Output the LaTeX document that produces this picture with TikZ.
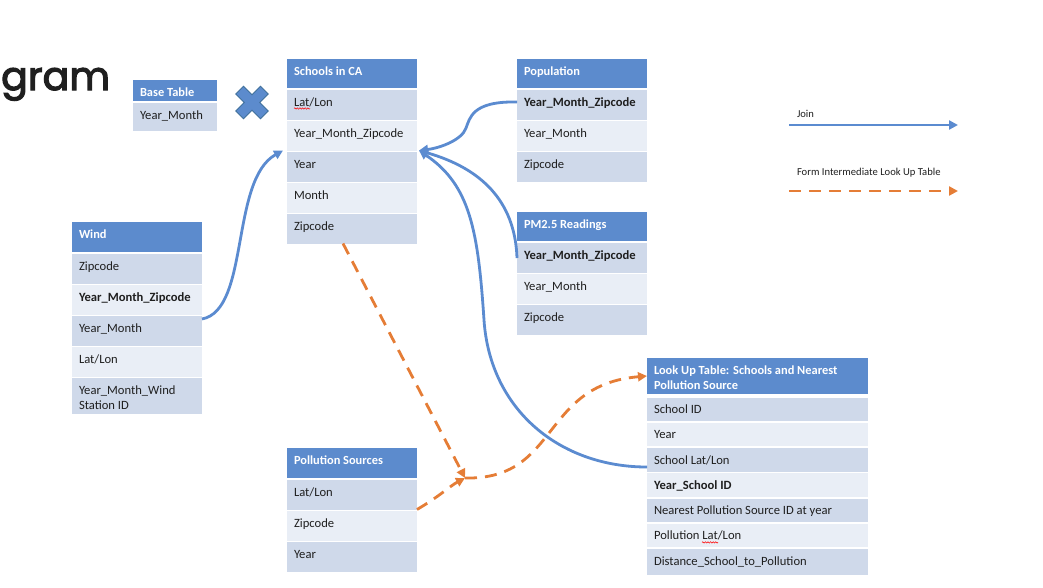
\documentclass[tikz,border=0pt]{standalone}
\usepackage{fontspec}
\setmainfont{Carlito}
\newfontfamily\titlefont{Poppins}[FakeBold=3]
\usetikzlibrary{arrows.meta,decorations.pathmorphing}

\definecolor{hdrblue}{HTML}{5C8BCD}
\definecolor{rowdark}{HTML}{CFD9EA}
\definecolor{rowlight}{HTML}{E9EEF6}
\definecolor{inkgray}{HTML}{1F1F1F}
\definecolor{joinblue}{HTML}{5B8BD0}
\definecolor{lookorange}{HTML}{E57D36}
\definecolor{xborder}{HTML}{41719C}

\tikzset{
  rowbox/.style={rectangle, draw=none, inner sep=0pt, outer sep=0pt, anchor=north west},
  rowtext/.style={inner sep=0pt, outer sep=0pt, anchor=base west, text=inkgray,
                  font=\fontsize{12.6}{15}\selectfont},
  hdrtext/.style={rowtext, text=white, font=\bfseries\fontsize{12.4}{15}\selectfont},
  keytext/.style={rowtext, font=\fontsize{10.6}{13}\selectfont},
  joinline/.style={draw=joinblue, line width=2.8pt, -{Triangle[length=9pt,width=9pt]}},
  lookline/.style={draw=lookorange, line width=2.8pt, dash pattern=on 12pt off 8pt,
                   -{Triangle[length=9pt,width=9pt]}},
  spellmark/.style={draw=red, line width=0.5pt,
                    decorate, decoration={snake, amplitude=0.7pt, segment length=2.6pt}}
}

% \tabrow{name}{x}{top}{width}{height}{fill}{text}
\newcommand\tabrow[7]{%
  \node[rowbox, fill=#6, minimum width=#4pt, minimum height=#5pt] (#1) at (#2,#3) {};
  \node[rowtext] (#1-t) at ([xshift=7pt,yshift=-16pt]#1.north west) {#7};}
% \tabhead{name}{x}{top}{width}{height}{text}
\newcommand\tabhead[6]{%
  \node[rowbox, fill=hdrblue, minimum width=#4pt, minimum height=#5pt] (#1) at (#2,#3) {};
  \node[hdrtext] (#1-t) at ([xshift=7pt,yshift=-16pt]#1.north west) {#6};}

\begin{document}
\begin{tikzpicture}[x=1pt,y=-1pt]
\useasboundingbox (0,0) rectangle (1043,587);

% slide title (partly cut)
\node[anchor=base west, inner sep=0pt, text=inkgray,
      font=\titlefont\fontsize{39.5}{40}\selectfont] (title) at (1,90) {gram};

% Base Table
\tabhead{bt}{133}{80}{84}{21}{Base Table}
\node[rowbox, fill=rowdark, minimum width=84pt, minimum height=28pt] (bt1) at (133,103) {};
\node[rowtext] (bt1-t) at ([xshift=7pt,yshift=-16pt]bt1.north west) {Year\_Month};

% cross product sign
\begin{scope}[shift={(252,102.5)}, rotate=45]
  \filldraw[fill=hdrblue, draw=xborder, line width=0.8pt]
    (-5.5,-17.5) -- (5.5,-17.5) -- (5.5,-5.5) -- (17.5,-5.5) -- (17.5,5.5) -- (5.5,5.5)
    -- (5.5,17.5) -- (-5.5,17.5) -- (-5.5,5.5) -- (-17.5,5.5) -- (-17.5,-5.5) -- (-5.5,-5.5) -- cycle;
\end{scope}

% Schools in CA
\tabhead{sh}{287}{59}{130}{29}{Schools in CA}
\tabrow{s1}{287}{90}{130}{29.5}{rowdark}{Lat/Lon}
\tabrow{s2}{287}{121}{130}{29.5}{rowlight}{Year\_Month\_Zipcode}
\tabrow{s3}{287}{152}{130}{29.5}{rowdark}{Year}
\tabrow{s4}{287}{183}{130}{29.5}{rowlight}{Month}
\tabrow{s5}{287}{214}{130}{29.5}{rowdark}{Zipcode}
\draw[spellmark] ([yshift=-2.5pt]s1-t.base west) -- ++(16,0);

% Population
\tabhead{ph}{517}{59}{130}{28.5}{Population}
\tabrow{p1}{517}{90}{130}{29.5}{rowdark}{\textbf{Year\_Month\_Zipcode}}
\tabrow{p2}{517}{121}{130}{29.5}{rowlight}{Year\_Month}
\tabrow{p3}{517}{152}{130}{29.5}{rowdark}{Zipcode}

% PM2.5 Readings
\tabhead{mh}{517}{212}{130}{29}{PM2.5 Readings}
\tabrow{m1}{517}{243}{130}{29.5}{rowdark}{\textbf{Year\_Month\_Zipcode}}
\tabrow{m2}{517}{274}{130}{29.5}{rowlight}{Year\_Month}
\tabrow{m3}{517}{305}{130}{29.5}{rowdark}{Zipcode}

% Wind
\tabhead{wh}{72}{222}{130}{30}{Wind}
\tabrow{w1}{72}{254}{130}{29.5}{rowdark}{Zipcode}
\tabrow{w2}{72}{285}{130}{29.5}{rowlight}{\textbf{Year\_Month\_Zipcode}}
\tabrow{w3}{72}{316}{130}{29.5}{rowdark}{Year\_Month}
\tabrow{w4}{72}{347}{130}{29.5}{rowlight}{Lat/Lon}
\tabrow{w5}{72}{378}{130}{36}{rowdark}{Year\_Month\_Wind}
\node[rowtext] (w5-t2) at ([yshift=-15pt]w5-t.base west) {Station ID};

% Pollution Sources
\tabhead{qh}{287}{448}{130}{29.5}{Pollution Sources}
\tabrow{q1}{287}{480}{130}{29.5}{rowdark}{Lat/Lon}
\tabrow{q2}{287}{511}{130}{29.5}{rowlight}{Zipcode}
\tabrow{q3}{287}{542}{130}{29.5}{rowdark}{Year}

% Look Up Table
\tabhead{lh}{647}{358}{221}{36}{Look Up Table: Schools and Nearest}
\node[hdrtext] (lh-t2) at ([yshift=-15pt]lh-t.base west) {Pollution Source};
\tabrow{l1}{647}{397.5}{221}{23.5}{rowdark}{School ID}
\tabrow{l2}{647}{422.8}{221}{23.5}{rowlight}{Year}
\tabrow{l3}{647}{448}{221}{23.5}{rowdark}{School Lat/Lon}
\tabrow{l4}{647}{473.3}{221}{23.5}{rowlight}{\textbf{Year\_School ID}}
\tabrow{l5}{647}{498.6}{221}{23.5}{rowdark}{Nearest Pollution Source ID at year}
\tabrow{l6}{647}{523.9}{221}{23.5}{rowlight}{Pollution Lat/Lon}
\tabrow{l7}{647}{549.2}{221}{26}{rowdark}{Distance\_School\_to\_Pollution}
\draw[spellmark] ([xshift=48pt,yshift=-2.5pt]l6-t.base west) -- ++(16,0);

% join connectors
\coordinate (into) at ([xshift=2pt]s2.south east);
\draw[joinline] ([yshift=-3pt]w3.north east) .. controls (250,310) and (230,180) .. ([xshift=-4pt]s2.south west);
\draw[joinline] ([yshift=-12pt]p1.north west) .. controls (472,101) and (470,118) .. (466,128)
                .. controls (462,140) and (440,148) .. (into);
\draw[joinline] ([yshift=-15pt]m1.north west) .. controls (515,200) and (480,168) .. (into);
\draw[joinline] ([yshift=-19pt]l3.north west) .. controls (560,467) and (490,410) .. (484,320)
                .. controls (478,230) and (470,185) .. (into);

% look-up construction connectors
\coordinate (meet) at (465,478);
\draw[lookline] ([xshift=56pt]s5.south west) -- (meet);
\draw[lookline] (q1.south east) .. controls (440,496) and (450,486) .. (meet);
\draw[lookline] (meet) .. controls (560,480) and (540,385) .. (lh.west);

% key
\node[keytext] (k1) at (797,117) {Join};
\coordinate (k1a) at (789,125);
\coordinate (k1b) at (958,125);
\draw[joinline] (k1a) -- (k1b);
\node[keytext] (k2) at (797,175.5) {Form Intermediate Look Up Table};
\coordinate (k2a) at (789,191);
\coordinate (k2b) at (958,191);
\draw[lookline] (k2a) -- (k2b);
\end{tikzpicture}
\end{document}
